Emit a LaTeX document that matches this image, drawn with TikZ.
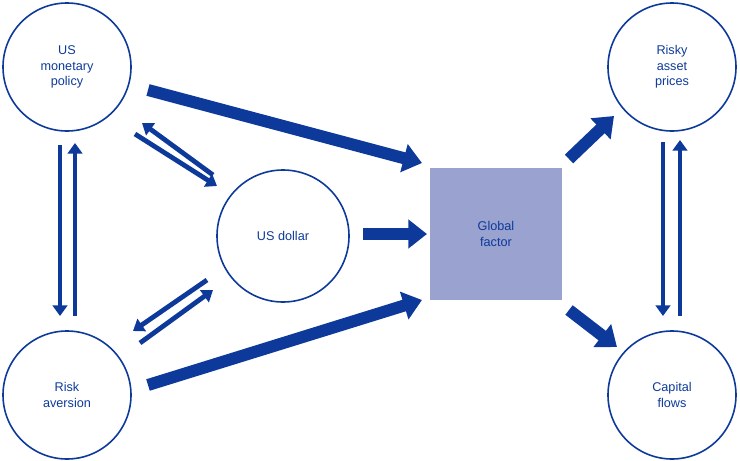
\documentclass[tikz,border=0pt]{standalone}
\usepackage{fontspec}
\setmainfont{Liberation Sans}
\usetikzlibrary{arrows.meta}
\definecolor{dblue}{HTML}{0D3A9A}
\definecolor{gfill}{HTML}{9AA2CF}
\begin{document}
\begin{tikzpicture}[x=0.75pt,y=-0.75pt,
  circ/.style={circle,draw=dblue,line width=1.2pt,minimum size=96pt,inner sep=0pt,align=center,text=dblue,font=\fontsize{9.5}{11.5}\selectfont},
  fat/.style={draw=dblue,line width=9pt,-{Triangle[length=14pt,width=21pt]}},
  thin/.style={draw=dblue,line width=3.6pt,-{Triangle[length=8pt,width=11pt]}}]
\useasboundingbox (0,0) rectangle (740,461);
\node[circ] (mp) at (67,67) {US\\monetary\\policy};
\node[circ] (ra) at (67,395) {Risk\\aversion};
\node[circ,minimum size=99pt] (ud) at (283,236) {US dollar};
\node[circ] (rp) at (672,67) {Risky\\asset\\prices};
\node[circ] (cf) at (672,395) {Capital\\flows};
\node[fill=gfill,minimum size=99pt,inner sep=0pt,text=dblue,align=center,font=\fontsize{9.5}{11.5}\selectfont] (gf) at (496,234) {Global\\factor};
% fat arrows
\coordinate (f1s) at (148,90); \coordinate (f1e) at (422,163);
\coordinate (f2s) at (148,385); \coordinate (f2e) at (422,300);
\coordinate (f3s) at (363,234); \coordinate (f3e) at (427,234);
\coordinate (f4s) at (569,159); \coordinate (f4e) at (614,116);
\coordinate (f5s) at (569,310); \coordinate (f5e) at (617,347);
\draw[fat] (f1s) -- (f1e);
\draw[fat] (f2s) -- (f2e);
\draw[fat] (f3s) -- (f3e);
\draw[fat] (f4s) -- (f4e);
\draw[fat] (f5s) -- (f5e);
% thin arrows
\coordinate (a1) at (60,145); \coordinate (a2) at (60,316);
\coordinate (a3) at (75,316); \coordinate (a4) at (75,143);
\draw[thin] (a1) -- (a2); \draw[thin] (a3) -- (a4);
\coordinate (b1) at (663,142); \coordinate (b2) at (663,316);
\coordinate (b3) at (680,316); \coordinate (b4) at (680,140);
\draw[thin] (b1) -- (b2); \draw[thin] (b3) -- (b4);
\coordinate (c1) at (135,134); \coordinate (c2) at (217,186);
\coordinate (c3) at (213,175); \coordinate (c4) at (142,123);
\draw[thin] (c1) -- (c2); \draw[thin] (c3) -- (c4);
\coordinate (d1) at (140,343); \coordinate (d2) at (213,290);
\coordinate (d3) at (207,280); \coordinate (d4) at (133,331);
\draw[thin] (d1) -- (d2); \draw[thin] (d3) -- (d4);
\end{tikzpicture}
\end{document}
